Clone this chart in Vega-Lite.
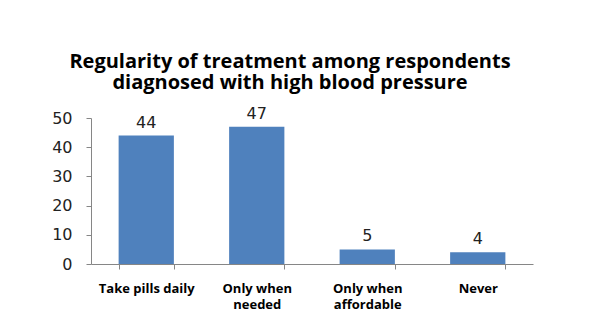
{
  "$schema": "https://vega.github.io/schema/vega-lite/v6.json",
  "width": 442,
  "height": 146,
  "autosize": {"type": "none"},
  "padding": {"left": 91, "top": 118, "right": 81, "bottom": 71},
  "background": "white",
  "title": {
    "text": ["Regularity of treatment among respondents", "diagnosed with high blood pressure"],
    "font": "Open Sans",
    "fontSize": 20,
    "fontWeight": "bold",
    "color": "#000000",
    "anchor": "middle",
    "dx": -22,
    "offset": 13,
    "lineHeight": 21
  },
  "data": {
    "values": [
      {"category": "Take pills daily", "value": 44},
      {"category": "Only when\nneeded", "value": 47},
      {"category": "Only when\naffordable", "value": 5},
      {"category": "Never", "value": 4}
    ]
  },
  "config": {"view": {"stroke": null}},
  "encoding": {
    "x": {
      "field": "category",
      "type": "nominal",
      "sort": null,
      "scale": {"paddingInner": 0.5, "paddingOuter": 0.25},
      "axis": {
        "title": null,
        "labelAngle": 0,
        "labelExpr": "split(datum.label, '\\n')",
        "labelFont": "Open Sans",
        "labelFontWeight": "bold",
        "labelFontSize": 13,
        "labelColor": "#000000",
        "labelPadding": 13,
        "labelLineHeight": 16,
        "domainColor": "#868686",
        "tickColor": "#868686",
        "tickBand": "extent",
        "tickSize": 5
      }
    },
    "y": {
      "field": "value",
      "type": "quantitative",
      "scale": {"domain": [0, 50]},
      "axis": {
        "title": null,
        "values": [0, 10, 20, 30, 40, 50],
        "grid": false,
        "labelFont": "DejaVu Sans",
        "labelFontSize": 16,
        "labelColor": "#222222",
        "labelPadding": 14,
        "domainColor": "#868686",
        "tickColor": "#868686",
        "tickSize": 5
      }
    }
  },
  "layer": [
    {"mark": {"type": "bar", "color": "#4F81BD"}},
    {
      "mark": {"type": "text", "baseline": "bottom", "dy": -5, "font": "DejaVu Sans", "fontSize": 16, "color": "#222222"},
      "encoding": {"text": {"field": "value", "type": "quantitative"}}
    }
  ]
}
